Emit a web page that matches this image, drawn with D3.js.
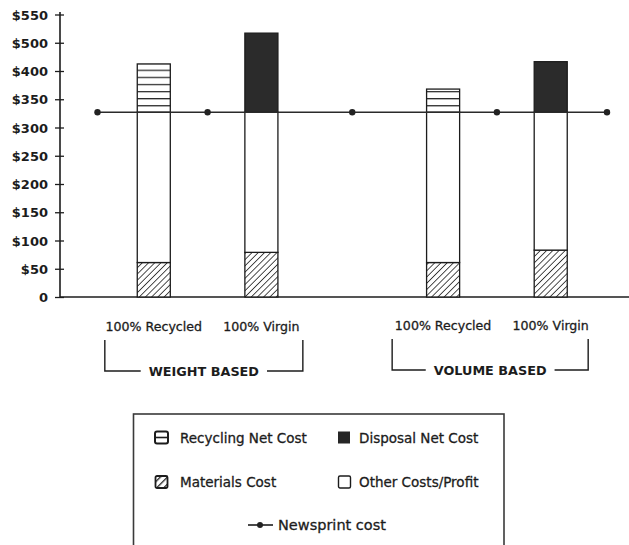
<!DOCTYPE html>
<html>
<head>
<meta charset="utf-8">
<script src="https://cdn.jsdelivr.net/npm/d3@7"></script>
<style>
  body { margin: 0; background: #fff; }
  text { font-family: "DejaVu Sans", sans-serif; fill: #1c1c1c; }
</style>
</head>
<body>
<svg id="chart" width="629" height="545"></svg>
<script>
// ---- data -------------------------------------------------------------
const groups = ["WEIGHT BASED", "VOLUME BASED"];
const products = ["100% Recycled", "100% Virgin"];
// one value per bar, in order: weight/recycled, weight/virgin, volume/recycled, volume/virgin
const materialsCost    = [61, 79, 61, 83];
const otherCosts       = [266, 248, 266, 244];
const recyclingNetCost = [98, 0, 41, 0];
const disposalNetCost  = [0, 190, 0, 106];
// newsprint reference price across the chart
const newsprintCost    = [327, 327, 327, 327, 327];
// axis ticks as printed on the scale
const yTicks      = [0, 50, 100, 150, 200, 250, 300, 350, 400, 500, 550];
const yTickLabels = ["0", "$50", "$100", "$150", "$200", "$250", "$300", "$350", "$400", "$500", "$550"];
const legendItems = [
  { key: "recycling", label: "Recycling Net Cost" },
  { key: "disposal",  label: "Disposal Net Cost" },
  { key: "materials", label: "Materials Cost" },
  { key: "other",     label: "Other Costs/Profit" }
];

// ---- layout -----------------------------------------------------------
const svg = d3.select("#chart");
const W = 629, H = 545;
const axisX = 60, plotTop = 14.5, plotBottom = 297;
const ink = "#1c1c1c";

// the printed scale is evenly spaced per tick, so map tick values piecewise
const y = d3.scaleLinear()
  .domain(yTicks)
  .range(yTicks.map((_, i) => plotBottom - i * (plotBottom - plotTop) / (yTicks.length - 1)));

const xGroup = d3.scaleBand().domain(groups).range([97.5, 607]).paddingInner(0.3).paddingOuter(0.0305);
const xBar = d3.scaleBand().domain(products).range([0, xGroup.bandwidth()]).paddingInner(0.693).paddingOuter(0.2875);

const rows = [];
groups.forEach((g, gi) => products.forEach((p, pi) => {
  const i = gi * products.length + pi;
  rows.push({ group: g, product: p, materials: materialsCost[i], other: otherCosts[i],
              recycling: recyclingNetCost[i], disposal: disposalNetCost[i] });
}));
const keys = ["materials", "other", "recycling", "disposal"];
const stacked = d3.stack().keys(keys)(rows);

// ---- patterns ---------------------------------------------------------
const defs = svg.append("defs");
const hatch = defs.append("pattern").attr("id", "hatch").attr("patternUnits", "userSpaceOnUse")
  .attr("width", 4.4).attr("height", 4.4).attr("patternTransform", "rotate(45)");
hatch.append("rect").attr("width", 4.4).attr("height", 4.4).attr("fill", "#fff");
hatch.append("line").attr("x1", 0).attr("y1", 0).attr("x2", 0).attr("y2", 4.4)
  .attr("stroke", "#222").attr("stroke-width", 1.6);

const hatchBig = defs.append("pattern").attr("id", "hatchBig").attr("patternUnits", "userSpaceOnUse")
  .attr("width", 5).attr("height", 5).attr("patternTransform", "rotate(45)");
hatchBig.append("rect").attr("width", 5).attr("height", 5).attr("fill", "#fff");
hatchBig.append("line").attr("x1", 0).attr("y1", 0).attr("x2", 0).attr("y2", 5)
  .attr("stroke", "#222").attr("stroke-width", 2.6);

const stripes = defs.append("pattern").attr("id", "stripes").attr("patternUnits", "userSpaceOnUse")
  .attr("width", 10).attr("height", 7.1).attr("y", y(327));
stripes.append("rect").attr("width", 10).attr("height", 7.1).attr("fill", "#fff");
stripes.append("line").attr("x1", 0).attr("x2", 10).attr("y1", 0.6).attr("y2", 0.6)
  .attr("stroke", "#2a2a2a").attr("stroke-width", 1.3);

const fills = { materials: "url(#hatch)", other: "#fff", recycling: "url(#stripes)", disposal: "#2b2b2b" };

// ---- axes -------------------------------------------------------------
const yAxis = d3.axisLeft(y).tickValues(yTicks).tickFormat((d, i) => yTickLabels[i]).tickSize(0).tickPadding(12);
const gy = svg.append("g").attr("transform", `translate(${axisX},0)`).call(yAxis);
gy.select(".domain").remove();
gy.selectAll("text").attr("font-family", "DejaVu Sans").attr("font-weight", "bold")
  .attr("font-size", 13).attr("fill", ink).attr("dy", "0.36em");
gy.selectAll(".tick").append("line").attr("x1", -5).attr("x2", 4).attr("stroke", ink).attr("stroke-width", 1.3);
svg.append("line").attr("x1", axisX).attr("x2", axisX).attr("y1", 12).attr("y2", plotBottom)
  .attr("stroke", ink).attr("stroke-width", 1.6);
svg.append("line").attr("x1", axisX).attr("x2", W).attr("y1", plotBottom).attr("y2", plotBottom)
  .attr("stroke", ink).attr("stroke-width", 1.6);

// ---- bars -------------------------------------------------------------
const barX = d => xGroup(d.data.group) + xBar(d.data.product);
svg.append("g").selectAll("g").data(stacked).join("g")
  .attr("fill", s => fills[s.key])
  .selectAll("rect").data(s => s.filter(d => d[1] > d[0])).join("rect")
  .attr("x", barX)
  .attr("y", d => y(d[1]))
  .attr("width", xBar.bandwidth())
  .attr("height", d => y(d[0]) - y(d[1]))
  .attr("stroke", ink).attr("stroke-width", 1.3);

// ---- newsprint line ---------------------------------------------------
const centers = groups.map(g => xGroup(g) + xGroup.bandwidth() / 2);
const newsX = [xGroup.range()[0], centers[0], (centers[0] + centers[1]) / 2, centers[1], xGroup.range()[1]];
const newsPts = newsprintCost.map((v, i) => [newsX[i], y(v)]);
svg.append("path").attr("d", d3.line()(newsPts)).attr("fill", "none")
  .attr("stroke", "#2a2a2a").attr("stroke-width", 1.6);
svg.append("g").selectAll("circle").data(newsPts).join("circle")
  .attr("cx", d => d[0]).attr("cy", d => d[1]).attr("r", 3.2).attr("fill", "#222");

// ---- category labels and group brackets -------------------------------
rows.forEach(r => {
  svg.append("text").attr("x", xGroup(r.group) + xBar(r.product) + xBar.bandwidth() / 2)
    .attr("y", r.group === groups[0] ? 331 : 329.5)
    .attr("text-anchor", "middle").attr("font-size", 12.6).attr("stroke", "#1c1c1c").attr("stroke-width", 0.3)
    .text(r.product);
});
groups.forEach((g, gi) => {
  const x0 = xGroup(g) - 1.5 - gi * 2, x1 = xGroup(g) + xGroup.bandwidth() - 6 - gi * 4;
  const cx = (x0 + x1) / 2, by = 371 - gi;
  const t = svg.append("text").attr("x", cx).attr("y", by + 5.2).attr("text-anchor", "middle")
    .attr("font-size", 12.8).attr("font-weight", "bold").text(g);
  const tw = t.node().getComputedTextLength();
  const gap = 8;
  svg.append("path")
    .attr("d", `M${x0},${by - 31}V${by}H${cx - tw / 2 - gap}M${cx + tw / 2 + gap},${by}H${x1}V${by - 31}`)
    .attr("fill", "none").attr("stroke", ink).attr("stroke-width", 1.4);
});

// ---- legend -----------------------------------------------------------
const lg = svg.append("g");
lg.append("rect").attr("x", 133.5).attr("y", 414).attr("width", 370.5).attr("height", 150)
  .attr("fill", "none").attr("stroke", "#3a3a3a").attr("stroke-width", 1.6);
const cols = [155, 338], rowsY = [437.5, 481.5];
legendItems.forEach((it, i) => {
  const cx = cols[i % 2], cy = rowsY[Math.floor(i / 2)];
  const g = lg.append("g").attr("transform", `translate(${cx},${cy})`);
  if (it.key === "recycling") {
    g.append("rect").attr("x", 0).attr("y", -6).attr("width", 13).attr("height", 12).attr("rx", 2)
      .attr("fill", "#fff").attr("stroke", ink).attr("stroke-width", 2);
    g.append("line").attr("x1", 0).attr("x2", 13).attr("y1", 0).attr("y2", 0).attr("stroke", ink).attr("stroke-width", 1.6);
  } else if (it.key === "disposal") {
    g.append("rect").attr("x", 0).attr("y", -6).attr("width", 12).attr("height", 12).attr("fill", "#262626");
  } else if (it.key === "materials") {
    g.append("rect").attr("x", 0.5).attr("y", -5.5).attr("width", 12).attr("height", 12).attr("rx", 1.5)
      .attr("fill", "url(#hatchBig)").attr("stroke", ink).attr("stroke-width", 1.8);
  } else {
    g.append("rect").attr("x", 0.5).attr("y", -5.5).attr("width", 12).attr("height", 12).attr("rx", 1.5)
      .attr("fill", "#fff").attr("stroke", ink).attr("stroke-width", 1.4);
  }
  g.append("text").attr("x", i % 2 ? 21 : 25).attr("y", 5).attr("font-size", 13.5)
    .attr("stroke", "#1c1c1c").attr("stroke-width", 0.3).text(it.label);
});
const nl = lg.append("g").attr("transform", "translate(248,525)");
nl.append("line").attr("x1", 0).attr("x2", 25).attr("stroke", ink).attr("stroke-width", 1.6);
nl.append("circle").attr("cx", 12).attr("r", 3).attr("fill", "#222");
nl.append("text").attr("x", 30).attr("y", 5).attr("font-size", 14.5)
  .attr("stroke", "#1c1c1c").attr("stroke-width", 0.3).text("Newsprint cost");
</script>
</body>
</html>
